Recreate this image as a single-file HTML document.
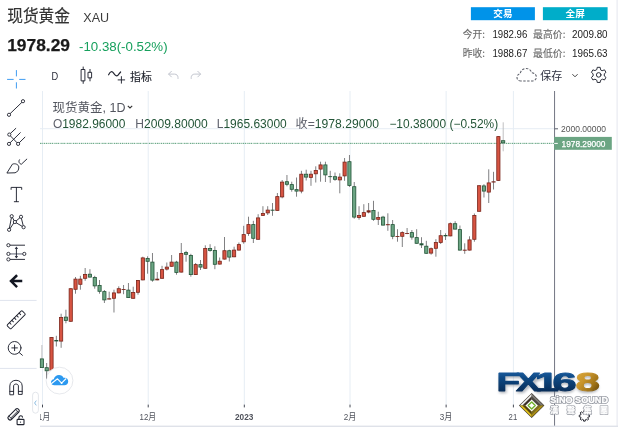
<!DOCTYPE html>
<html lang="zh-CN">
<head>
<meta charset="utf-8">
<title>现货黄金 XAU</title>
<style>
html,body{margin:0;padding:0;background:#fff;}
body{width:618px;height:427px;position:relative;overflow:hidden;font-family:"Liberation Sans","Noto Sans CJK SC",sans-serif;}
svg{position:absolute;left:0;top:0;display:block;}
text{font-family:"Liberation Sans","Noto Sans CJK SC",sans-serif;}
.cjk{font-family:"Noto Sans CJK SC","Liberation Sans",sans-serif;}
.ic{fill:none;stroke:#222531;stroke-width:0.95;stroke-linecap:round;stroke-linejoin:round;}
.icw{fill:#fff;stroke:#222531;stroke-width:0.9;}
</style>
</head>
<body>
<svg width="618" height="427" viewBox="0 0 618 427">
<rect x="0" y="0" width="618" height="427" fill="#ffffff"/>

<!-- ===== header ===== -->
<g id="header">
<text x="7.2" y="22.3" font-size="16.5" fill="#333" stroke="#333" stroke-width="0.15" class="cjk" textLength="62.8" lengthAdjust="spacingAndGlyphs">现货黄金</text>
<text x="83.3" y="21.6" font-size="13.2" fill="#3c3c3c" textLength="25.8" lengthAdjust="spacingAndGlyphs">XAU</text>
<text x="7.2" y="51" font-size="16.6" font-weight="bold" fill="#1a1a1a" stroke="#1a1a1a" stroke-width="0.25" textLength="62.8" lengthAdjust="spacingAndGlyphs">1978.29</text>
<text x="79" y="51" font-size="13.4" fill="#17a05d" textLength="88.6" lengthAdjust="spacingAndGlyphs">-10.38(-0.52%)</text>

<rect x="470.9" y="7.2" width="64" height="13" fill="#0093e9"/>
<text x="502.9" y="17.4" font-size="9.6" font-weight="bold" fill="#fff" text-anchor="middle" class="cjk">交易</text>
<rect x="542.9" y="7.2" width="64.7" height="13" fill="#00adc9"/>
<text x="575.2" y="17.4" font-size="9.6" font-weight="bold" fill="#fff" text-anchor="middle" class="cjk">全屏</text>

<text x="462.7" y="38.2" font-size="9.7" fill="#6a6a6a" stroke="#6a6a6a" stroke-width="0.12" class="cjk" textLength="22.3" lengthAdjust="spacingAndGlyphs">今开:</text>
<text x="492.4" y="38.2" font-size="11.8" fill="#222" textLength="35" lengthAdjust="spacingAndGlyphs">1982.96</text>
<text x="533" y="38.2" font-size="9.7" fill="#6a6a6a" stroke="#6a6a6a" stroke-width="0.12" class="cjk" textLength="32.4" lengthAdjust="spacingAndGlyphs">最高价:</text>
<text x="572" y="38.2" font-size="11.8" fill="#222" textLength="35.6" lengthAdjust="spacingAndGlyphs">2009.80</text>

<text x="462.7" y="57.2" font-size="9.7" fill="#6a6a6a" stroke="#6a6a6a" stroke-width="0.12" class="cjk" textLength="22.3" lengthAdjust="spacingAndGlyphs">昨收:</text>
<text x="492.4" y="57.2" font-size="11.8" fill="#222" textLength="35" lengthAdjust="spacingAndGlyphs">1988.67</text>
<text x="533" y="57.2" font-size="9.7" fill="#6a6a6a" stroke="#6a6a6a" stroke-width="0.12" class="cjk" textLength="32.4" lengthAdjust="spacingAndGlyphs">最低价:</text>
<text x="572" y="57.2" font-size="11.8" fill="#222" textLength="35.6" lengthAdjust="spacingAndGlyphs">1965.63</text>
</g>

<!-- right border -->
<rect x="616.6" y="0" width="1" height="427" fill="#e4e7ee"/>

<!-- ===== chart ===== -->
<g id="chart">
<rect x="42.00" y="91" width="1" height="313.6" fill="#e6edf4"/>
<rect x="42.00" y="404.6" width="1" height="2.8" fill="#454954"/>
<rect x="147.71" y="91" width="1" height="313.6" fill="#e6edf4"/>
<rect x="147.71" y="404.6" width="1" height="2.8" fill="#454954"/>
<rect x="243.81" y="91" width="1" height="313.6" fill="#e6edf4"/>
<rect x="243.81" y="404.6" width="1" height="2.8" fill="#454954"/>
<rect x="349.52" y="91" width="1" height="313.6" fill="#e6edf4"/>
<rect x="349.52" y="404.6" width="1" height="2.8" fill="#454954"/>
<rect x="445.62" y="91" width="1" height="313.6" fill="#e6edf4"/>
<rect x="445.62" y="404.6" width="1" height="2.8" fill="#454954"/>
<rect x="512.89" y="91" width="1" height="313.6" fill="#e6edf4"/>
<rect x="512.89" y="404.6" width="1" height="2.8" fill="#454954"/>
<rect x="40" y="128.2" width="514" height="1" fill="#e6edf4"/>
<line x1="40" y1="143.35" x2="554" y2="143.35" stroke="#559c76" stroke-width="1" stroke-dasharray="1.5 0.75 0.7 0.75 1.4 0.75"/>
<rect x="41.45" y="345.0" width="0.9" height="23.0" fill="#b9b9bb"/>
<rect x="46.25" y="363.0" width="0.9" height="15.6" fill="#737375"/>
<rect x="51.06" y="337.0" width="0.9" height="33.8" fill="#737375"/>
<rect x="55.86" y="335.8" width="0.9" height="10.7" fill="#737375"/>
<rect x="60.67" y="313.7" width="0.9" height="34.1" fill="#737375"/>
<rect x="65.47" y="309.7" width="0.9" height="13.6" fill="#737375"/>
<rect x="70.28" y="288.3" width="0.9" height="33.4" fill="#737375"/>
<rect x="75.08" y="277.0" width="0.9" height="16.7" fill="#737375"/>
<rect x="79.89" y="275.8" width="0.9" height="13.9" fill="#737375"/>
<rect x="84.69" y="268.0" width="0.9" height="12.8" fill="#737375"/>
<rect x="89.50" y="269.2" width="0.9" height="8.3" fill="#737375"/>
<rect x="94.30" y="275.8" width="0.9" height="12.9" fill="#737375"/>
<rect x="99.11" y="280.0" width="0.9" height="13.7" fill="#737375"/>
<rect x="103.91" y="290.0" width="0.9" height="13.0" fill="#737375"/>
<rect x="108.72" y="291.7" width="0.9" height="7.8" fill="#737375"/>
<rect x="113.52" y="289.7" width="0.9" height="22.8" fill="#737375"/>
<rect x="118.33" y="286.3" width="0.9" height="7.0" fill="#737375"/>
<rect x="123.14" y="285.0" width="0.9" height="9.2" fill="#737375"/>
<rect x="127.94" y="283.0" width="0.9" height="15.0" fill="#737375"/>
<rect x="132.75" y="286.7" width="0.9" height="12.0" fill="#737375"/>
<rect x="137.55" y="280.0" width="0.9" height="14.7" fill="#737375"/>
<rect x="142.36" y="256.7" width="0.9" height="23.6" fill="#737375"/>
<rect x="147.16" y="256.3" width="0.9" height="17.4" fill="#737375"/>
<rect x="151.97" y="253.0" width="0.9" height="28.7" fill="#737375"/>
<rect x="156.77" y="272.0" width="0.9" height="8.3" fill="#737375"/>
<rect x="161.58" y="265.8" width="0.9" height="12.9" fill="#737375"/>
<rect x="166.38" y="262.5" width="0.9" height="8.0" fill="#737375"/>
<rect x="171.19" y="255.0" width="0.9" height="11.7" fill="#737375"/>
<rect x="175.99" y="260.8" width="0.9" height="13.9" fill="#737375"/>
<rect x="180.80" y="243.0" width="0.9" height="29.5" fill="#737375"/>
<rect x="185.60" y="250.8" width="0.9" height="10.9" fill="#737375"/>
<rect x="190.41" y="253.8" width="0.9" height="22.9" fill="#737375"/>
<rect x="195.21" y="263.0" width="0.9" height="12.0" fill="#737375"/>
<rect x="200.02" y="260.0" width="0.9" height="10.0" fill="#737375"/>
<rect x="204.82" y="245.3" width="0.9" height="23.4" fill="#737375"/>
<rect x="209.62" y="244.2" width="0.9" height="7.5" fill="#737375"/>
<rect x="214.43" y="246.3" width="0.9" height="22.9" fill="#737375"/>
<rect x="219.24" y="257.5" width="0.9" height="7.0" fill="#737375"/>
<rect x="224.04" y="237.0" width="0.9" height="22.5" fill="#737375"/>
<rect x="228.84" y="249.7" width="0.9" height="11.8" fill="#737375"/>
<rect x="233.65" y="246.7" width="0.9" height="10.5" fill="#737375"/>
<rect x="238.46" y="242.5" width="0.9" height="8.0" fill="#737375"/>
<rect x="243.26" y="225.8" width="0.9" height="17.9" fill="#737375"/>
<rect x="248.06" y="216.7" width="0.9" height="19.1" fill="#737375"/>
<rect x="252.87" y="220.8" width="0.9" height="22.2" fill="#737375"/>
<rect x="257.68" y="214.2" width="0.9" height="25.5" fill="#737375"/>
<rect x="262.48" y="206.2" width="0.9" height="9.6" fill="#737375"/>
<rect x="267.28" y="206.2" width="0.9" height="8.8" fill="#737375"/>
<rect x="272.09" y="203.0" width="0.9" height="12.8" fill="#737375"/>
<rect x="276.89" y="193.0" width="0.9" height="17.8" fill="#737375"/>
<rect x="281.70" y="180.0" width="0.9" height="18.3" fill="#737375"/>
<rect x="286.50" y="175.0" width="0.9" height="11.3" fill="#737375"/>
<rect x="291.31" y="181.7" width="0.9" height="10.0" fill="#737375"/>
<rect x="296.12" y="177.5" width="0.9" height="19.2" fill="#737375"/>
<rect x="300.92" y="170.8" width="0.9" height="22.5" fill="#737375"/>
<rect x="305.72" y="169.7" width="0.9" height="10.8" fill="#737375"/>
<rect x="310.53" y="170.8" width="0.9" height="15.0" fill="#737375"/>
<rect x="315.33" y="166.3" width="0.9" height="16.2" fill="#737375"/>
<rect x="320.14" y="161.7" width="0.9" height="20.0" fill="#737375"/>
<rect x="324.94" y="161.7" width="0.9" height="20.3" fill="#737375"/>
<rect x="329.75" y="170.8" width="0.9" height="12.0" fill="#737375"/>
<rect x="334.55" y="172.5" width="0.9" height="8.3" fill="#737375"/>
<rect x="339.36" y="173.3" width="0.9" height="20.0" fill="#737375"/>
<rect x="344.16" y="158.0" width="0.9" height="22.8" fill="#737375"/>
<rect x="348.97" y="155.0" width="0.9" height="31.9" fill="#737375"/>
<rect x="353.77" y="182.0" width="0.9" height="36.7" fill="#737375"/>
<rect x="358.58" y="206.2" width="0.9" height="13.5" fill="#737375"/>
<rect x="363.38" y="204.2" width="0.9" height="12.5" fill="#737375"/>
<rect x="368.19" y="203.0" width="0.9" height="10.3" fill="#737375"/>
<rect x="372.99" y="200.8" width="0.9" height="20.0" fill="#737375"/>
<rect x="377.80" y="211.7" width="0.9" height="13.3" fill="#737375"/>
<rect x="382.60" y="215.8" width="0.9" height="9.7" fill="#737375"/>
<rect x="387.41" y="213.3" width="0.9" height="17.5" fill="#737375"/>
<rect x="392.21" y="220.0" width="0.9" height="19.2" fill="#737375"/>
<rect x="397.02" y="229.2" width="0.9" height="12.5" fill="#737375"/>
<rect x="401.82" y="231.3" width="0.9" height="15.7" fill="#737375"/>
<rect x="406.63" y="228.0" width="0.9" height="6.2" fill="#737375"/>
<rect x="411.43" y="230.0" width="0.9" height="9.7" fill="#737375"/>
<rect x="416.24" y="229.2" width="0.9" height="14.5" fill="#737375"/>
<rect x="421.04" y="237.2" width="0.9" height="10.8" fill="#737375"/>
<rect x="425.85" y="240.8" width="0.9" height="12.9" fill="#737375"/>
<rect x="430.65" y="247.5" width="0.9" height="7.2" fill="#737375"/>
<rect x="435.46" y="239.2" width="0.9" height="17.5" fill="#737375"/>
<rect x="440.26" y="230.0" width="0.9" height="14.0" fill="#737375"/>
<rect x="445.07" y="233.3" width="0.9" height="6.7" fill="#737375"/>
<rect x="449.87" y="222.5" width="0.9" height="13.8" fill="#737375"/>
<rect x="454.68" y="221.2" width="0.9" height="8.3" fill="#737375"/>
<rect x="459.48" y="225.5" width="0.9" height="25.0" fill="#737375"/>
<rect x="464.29" y="243.3" width="0.9" height="10.5" fill="#737375"/>
<rect x="469.09" y="236.3" width="0.9" height="14.2" fill="#737375"/>
<rect x="473.90" y="213.5" width="0.9" height="28.2" fill="#737375"/>
<rect x="478.70" y="185.3" width="0.9" height="26.4" fill="#737375"/>
<rect x="483.51" y="184.2" width="0.9" height="13.3" fill="#737375"/>
<rect x="488.31" y="169.3" width="0.9" height="33.7" fill="#737375"/>
<rect x="493.12" y="171.8" width="0.9" height="17.7" fill="#737375"/>
<rect x="497.92" y="136.2" width="0.9" height="44.6" fill="#737375"/>
<rect x="502.73" y="122.3" width="0.9" height="29.0" fill="#b9b9bb"/>
<rect x="40.30" y="358.9" width="3.2" height="8.7" fill="#6ba583" stroke="#225437" stroke-width="0.8"/>
<rect x="45.10" y="367.7" width="3.2" height="3.1" fill="#6ba583" stroke="#225437" stroke-width="0.8"/>
<rect x="49.91" y="337.4" width="3.2" height="33.0" fill="#d75442" stroke="#7a241a" stroke-width="0.8"/>
<rect x="54.31" y="340.0" width="4.0" height="1.4" fill="#225437"/>
<rect x="59.52" y="317.4" width="3.2" height="23.7" fill="#d75442" stroke="#7a241a" stroke-width="0.8"/>
<rect x="64.33" y="317.1" width="3.2" height="3.3" fill="#6ba583" stroke="#225437" stroke-width="0.8"/>
<rect x="69.13" y="288.7" width="3.2" height="32.6" fill="#d75442" stroke="#7a241a" stroke-width="0.8"/>
<rect x="73.94" y="279.1" width="3.2" height="10.2" fill="#d75442" stroke="#7a241a" stroke-width="0.8"/>
<rect x="78.74" y="279.1" width="3.2" height="5.2" fill="#d75442" stroke="#7a241a" stroke-width="0.8"/>
<rect x="83.55" y="274.4" width="3.2" height="3.9" fill="#d75442" stroke="#7a241a" stroke-width="0.8"/>
<rect x="88.35" y="274.2" width="3.2" height="2.9" fill="#6ba583" stroke="#225437" stroke-width="0.8"/>
<rect x="93.16" y="277.4" width="3.2" height="8.5" fill="#6ba583" stroke="#225437" stroke-width="0.8"/>
<rect x="97.96" y="285.4" width="3.2" height="5.9" fill="#6ba583" stroke="#225437" stroke-width="0.8"/>
<rect x="102.77" y="291.6" width="3.2" height="8.3" fill="#6ba583" stroke="#225437" stroke-width="0.8"/>
<rect x="107.17" y="298.3" width="4.0" height="1.2" fill="#7a241a"/>
<rect x="112.38" y="292.9" width="3.2" height="5.4" fill="#d75442" stroke="#7a241a" stroke-width="0.8"/>
<rect x="117.18" y="288.7" width="3.2" height="4.2" fill="#d75442" stroke="#7a241a" stroke-width="0.8"/>
<rect x="121.59" y="289.0" width="4.0" height="0.9" fill="#7a241a"/>
<rect x="126.79" y="290.1" width="3.2" height="7.5" fill="#6ba583" stroke="#225437" stroke-width="0.8"/>
<rect x="131.59" y="292.5" width="3.2" height="5.8" fill="#d75442" stroke="#7a241a" stroke-width="0.8"/>
<rect x="136.40" y="280.4" width="3.2" height="11.9" fill="#d75442" stroke="#7a241a" stroke-width="0.8"/>
<rect x="141.21" y="257.9" width="3.2" height="22.0" fill="#d75442" stroke="#7a241a" stroke-width="0.8"/>
<rect x="146.01" y="258.4" width="3.2" height="2.9" fill="#6ba583" stroke="#225437" stroke-width="0.8"/>
<rect x="150.81" y="262.1" width="3.2" height="18.0" fill="#6ba583" stroke="#225437" stroke-width="0.8"/>
<rect x="155.22" y="278.7" width="4.0" height="1.6" fill="#7a241a"/>
<rect x="160.43" y="269.6" width="3.2" height="8.7" fill="#d75442" stroke="#7a241a" stroke-width="0.8"/>
<rect x="165.23" y="267.1" width="3.2" height="2.0" fill="#d75442" stroke="#7a241a" stroke-width="0.8"/>
<rect x="170.03" y="262.1" width="3.2" height="4.2" fill="#d75442" stroke="#7a241a" stroke-width="0.8"/>
<rect x="174.84" y="262.1" width="3.2" height="10.3" fill="#6ba583" stroke="#225437" stroke-width="0.8"/>
<rect x="179.65" y="253.4" width="3.2" height="18.7" fill="#d75442" stroke="#7a241a" stroke-width="0.8"/>
<rect x="184.45" y="252.6" width="3.2" height="1.7" fill="#6ba583" stroke="#225437" stroke-width="0.8"/>
<rect x="189.25" y="255.4" width="3.2" height="19.2" fill="#6ba583" stroke="#225437" stroke-width="0.8"/>
<rect x="194.06" y="264.6" width="3.2" height="10.0" fill="#d75442" stroke="#7a241a" stroke-width="0.8"/>
<rect x="198.87" y="264.6" width="3.2" height="2.5" fill="#6ba583" stroke="#225437" stroke-width="0.8"/>
<rect x="203.67" y="248.4" width="3.2" height="19.9" fill="#d75442" stroke="#7a241a" stroke-width="0.8"/>
<rect x="208.47" y="248.4" width="3.2" height="2.0" fill="#6ba583" stroke="#225437" stroke-width="0.8"/>
<rect x="213.28" y="250.4" width="3.2" height="13.9" fill="#6ba583" stroke="#225437" stroke-width="0.8"/>
<rect x="218.09" y="261.2" width="3.2" height="2.9" fill="#d75442" stroke="#7a241a" stroke-width="0.8"/>
<rect x="222.89" y="250.7" width="3.2" height="8.4" fill="#d75442" stroke="#7a241a" stroke-width="0.8"/>
<rect x="227.69" y="250.7" width="3.2" height="6.4" fill="#6ba583" stroke="#225437" stroke-width="0.8"/>
<rect x="232.50" y="250.1" width="3.2" height="6.7" fill="#d75442" stroke="#7a241a" stroke-width="0.8"/>
<rect x="237.31" y="244.6" width="3.2" height="5.5" fill="#d75442" stroke="#7a241a" stroke-width="0.8"/>
<rect x="242.11" y="234.6" width="3.2" height="7.2" fill="#d75442" stroke="#7a241a" stroke-width="0.8"/>
<rect x="246.91" y="224.6" width="3.2" height="8.8" fill="#d75442" stroke="#7a241a" stroke-width="0.8"/>
<rect x="251.72" y="224.6" width="3.2" height="13.7" fill="#6ba583" stroke="#225437" stroke-width="0.8"/>
<rect x="256.52" y="217.9" width="3.2" height="21.4" fill="#d75442" stroke="#7a241a" stroke-width="0.8"/>
<rect x="261.33" y="213.4" width="3.2" height="2.0" fill="#d75442" stroke="#7a241a" stroke-width="0.8"/>
<rect x="266.13" y="210.1" width="3.2" height="2.8" fill="#d75442" stroke="#7a241a" stroke-width="0.8"/>
<rect x="270.54" y="209.7" width="4.0" height="1.0" fill="#225437"/>
<rect x="275.74" y="196.6" width="3.2" height="13.8" fill="#d75442" stroke="#7a241a" stroke-width="0.8"/>
<rect x="280.55" y="182.1" width="3.2" height="14.8" fill="#d75442" stroke="#7a241a" stroke-width="0.8"/>
<rect x="285.35" y="181.7" width="3.2" height="2.6" fill="#6ba583" stroke="#225437" stroke-width="0.8"/>
<rect x="290.16" y="184.6" width="3.2" height="4.7" fill="#6ba583" stroke="#225437" stroke-width="0.8"/>
<rect x="294.96" y="189.6" width="3.2" height="1.5" fill="#6ba583" stroke="#225437" stroke-width="0.8"/>
<rect x="299.77" y="174.2" width="3.2" height="16.9" fill="#d75442" stroke="#7a241a" stroke-width="0.8"/>
<rect x="304.57" y="174.2" width="3.2" height="2.9" fill="#6ba583" stroke="#225437" stroke-width="0.8"/>
<rect x="309.38" y="174.2" width="3.2" height="3.2" fill="#d75442" stroke="#7a241a" stroke-width="0.8"/>
<rect x="314.18" y="170.4" width="3.2" height="3.4" fill="#d75442" stroke="#7a241a" stroke-width="0.8"/>
<rect x="318.99" y="164.9" width="3.2" height="4.2" fill="#d75442" stroke="#7a241a" stroke-width="0.8"/>
<rect x="323.79" y="164.9" width="3.2" height="10.0" fill="#6ba583" stroke="#225437" stroke-width="0.8"/>
<rect x="328.20" y="176.2" width="4.0" height="0.9" fill="#225437"/>
<rect x="333.40" y="176.7" width="3.2" height="2.6" fill="#6ba583" stroke="#225437" stroke-width="0.8"/>
<rect x="338.21" y="177.1" width="3.2" height="2.8" fill="#d75442" stroke="#7a241a" stroke-width="0.8"/>
<rect x="343.01" y="162.1" width="3.2" height="13.8" fill="#d75442" stroke="#7a241a" stroke-width="0.8"/>
<rect x="347.82" y="161.7" width="3.2" height="23.7" fill="#6ba583" stroke="#225437" stroke-width="0.8"/>
<rect x="352.62" y="186.7" width="3.2" height="30.4" fill="#6ba583" stroke="#225437" stroke-width="0.8"/>
<rect x="357.43" y="215.4" width="3.2" height="2.2" fill="#d75442" stroke="#7a241a" stroke-width="0.8"/>
<rect x="362.23" y="212.6" width="3.2" height="3.7" fill="#d75442" stroke="#7a241a" stroke-width="0.8"/>
<rect x="366.64" y="210.3" width="4.0" height="2.2" fill="#7a241a"/>
<rect x="371.84" y="210.4" width="3.2" height="8.9" fill="#6ba583" stroke="#225437" stroke-width="0.8"/>
<rect x="376.65" y="217.4" width="3.2" height="1.9" fill="#d75442" stroke="#7a241a" stroke-width="0.8"/>
<rect x="381.45" y="217.1" width="3.2" height="8.0" fill="#6ba583" stroke="#225437" stroke-width="0.8"/>
<rect x="385.86" y="224.2" width="4.0" height="1.0" fill="#7a241a"/>
<rect x="391.06" y="224.6" width="3.2" height="11.7" fill="#6ba583" stroke="#225437" stroke-width="0.8"/>
<rect x="395.47" y="236.0" width="4.0" height="0.9" fill="#7a241a"/>
<rect x="400.67" y="232.6" width="3.2" height="3.7" fill="#d75442" stroke="#7a241a" stroke-width="0.8"/>
<rect x="405.08" y="233.0" width="4.0" height="0.9" fill="#7a241a"/>
<rect x="410.28" y="232.6" width="3.2" height="4.5" fill="#6ba583" stroke="#225437" stroke-width="0.8"/>
<rect x="415.09" y="237.6" width="3.2" height="5.7" fill="#6ba583" stroke="#225437" stroke-width="0.8"/>
<rect x="419.49" y="243.3" width="4.0" height="2.0" fill="#225437"/>
<rect x="424.70" y="246.2" width="3.2" height="7.1" fill="#6ba583" stroke="#225437" stroke-width="0.8"/>
<rect x="429.50" y="248.7" width="3.2" height="4.4" fill="#d75442" stroke="#7a241a" stroke-width="0.8"/>
<rect x="434.31" y="242.5" width="3.2" height="5.8" fill="#d75442" stroke="#7a241a" stroke-width="0.8"/>
<rect x="439.11" y="235.7" width="3.2" height="6.7" fill="#d75442" stroke="#7a241a" stroke-width="0.8"/>
<rect x="443.52" y="235.0" width="4.0" height="1.3" fill="#225437"/>
<rect x="448.72" y="223.7" width="3.2" height="12.2" fill="#d75442" stroke="#7a241a" stroke-width="0.8"/>
<rect x="453.53" y="223.7" width="3.2" height="5.4" fill="#6ba583" stroke="#225437" stroke-width="0.8"/>
<rect x="458.33" y="229.6" width="3.2" height="20.5" fill="#6ba583" stroke="#225437" stroke-width="0.8"/>
<rect x="462.74" y="249.7" width="4.0" height="1.0" fill="#7a241a"/>
<rect x="467.94" y="239.9" width="3.2" height="10.2" fill="#d75442" stroke="#7a241a" stroke-width="0.8"/>
<rect x="472.75" y="215.4" width="3.2" height="23.9" fill="#d75442" stroke="#7a241a" stroke-width="0.8"/>
<rect x="477.55" y="185.7" width="3.2" height="25.6" fill="#d75442" stroke="#7a241a" stroke-width="0.8"/>
<rect x="482.36" y="185.9" width="3.2" height="5.2" fill="#6ba583" stroke="#225437" stroke-width="0.8"/>
<rect x="487.16" y="182.9" width="3.2" height="9.2" fill="#d75442" stroke="#7a241a" stroke-width="0.8"/>
<rect x="491.57" y="181.3" width="4.0" height="1.2" fill="#7a241a"/>
<rect x="496.77" y="136.6" width="3.2" height="43.8" fill="#d75442" stroke="#7a241a" stroke-width="0.8"/>
<rect x="501.58" y="140.7" width="3.2" height="2.2" fill="#6ba583" stroke="#225437" stroke-width="0.8"/>
</g>

<!-- price axis -->
<rect x="554.15" y="91" width="0.9" height="335" fill="#646875"/>
<rect x="554.6" y="128.3" width="3.4" height="1" fill="#5a5e6b"/>
<text x="561" y="132.2" font-size="8.6" fill="#555" textLength="45" lengthAdjust="spacingAndGlyphs">2000.00000</text>
<rect x="554.2" y="136.9" width="57.6" height="12.9" fill="#6ba583"/>
<rect x="554.2" y="142.9" width="3.6" height="1" fill="#fff"/>
<text x="561.5" y="146.6" font-size="8.6" fill="#fff" stroke="#fff" stroke-width="0.25" textLength="44" lengthAdjust="spacingAndGlyphs">1978.29000</text>

<!-- bottom band -->
<rect x="40" y="425.6" width="578" height="1.4" fill="#dfe2e9"/>

<!-- time axis labels -->
<g font-size="9.5" fill="#50535c">
<svg x="40" y="405" width="60" height="20" viewBox="40 405 60 20"><text x="33.9" y="420.2" font-size="9.5" fill="#50535c" textLength="16.6" lengthAdjust="spacingAndGlyphs">11月</text></svg>
<text x="139.6" y="420.2" textLength="16.6" lengthAdjust="spacingAndGlyphs">12月</text>
<text x="235" y="420.2" font-weight="bold" textLength="18.4" lengthAdjust="spacingAndGlyphs">2023</text>
<text x="343.8" y="420.2" textLength="12.6" lengthAdjust="spacingAndGlyphs">2月</text>
<text x="439.8" y="420.2" textLength="12.6" lengthAdjust="spacingAndGlyphs">3月</text>
<text x="508.6" y="420.2" textLength="8.6" lengthAdjust="spacingAndGlyphs">21</text>
</g>

<!-- legend -->
<g id="legend">
<text x="52.5" y="112" font-size="12.5" fill="#53565f">现货黄金, 1D</text>
<path d="M127.8 105.8 l2.2 2.2 l2.2 -2.2" fill="none" stroke="#333" stroke-width="1.1"/>
<g font-size="12">
<text x="52.9" y="128" textLength="72.5" lengthAdjust="spacingAndGlyphs"><tspan fill="#5d606b">O</tspan><tspan fill="#225437">1982.96000</tspan></text>
<text x="135.3" y="128" textLength="72.5" lengthAdjust="spacingAndGlyphs"><tspan fill="#5d606b">H</tspan><tspan fill="#225437">2009.80000</tspan></text>
<text x="216.8" y="128" textLength="69.9" lengthAdjust="spacingAndGlyphs"><tspan fill="#5d606b">L</tspan><tspan fill="#225437">1965.63000</tspan></text>
<text x="295.6" y="128" textLength="83.4" lengthAdjust="spacingAndGlyphs"><tspan fill="#5d606b">收=</tspan><tspan fill="#225437">1978.29000</tspan></text>
<text x="389.4" y="128" textLength="108.8" lengthAdjust="spacingAndGlyphs" fill="#225437">−10.38000 (−0.52%)</text>
</g>
</g>

<!-- ===== top toolbar ===== -->
<g id="toolbar">
<text x="51.4" y="80.1" font-size="10.5" fill="#2a2d3a" textLength="6.7" lengthAdjust="spacingAndGlyphs">D</text>
<!-- candles icon -->
<g class="ic" stroke-width="1">
<rect x="81.5" y="69.5" width="3.4" height="11.4"/>
<path d="M83.2 67 v2.5 M83.2 80.9 v2.5"/>
<rect x="88.4" y="72.3" width="3.2" height="5.6"/>
<path d="M90 69.4 v2.9 M90 77.9 v3"/>
</g>
<!-- indicators icon -->
<path class="ic" style="stroke-width:1.2" d="M108.6 74.8 c1.8 -3.6 3.4 -4 5 -1.6 c1.4 2.2 2.8 3.4 4.4 2 l2.6 -3.2"/>
<path class="ic" d="M121.4 76.6 v6.6 M118.1 79.9 h6.6"/>
<text x="130" y="81" font-size="10.9" fill="#1f222c" stroke="#1f222c" stroke-width="0.15" class="cjk">指标</text>
<!-- undo / redo -->
<g fill="none" stroke="#c3c6cf" stroke-width="1" stroke-linecap="round" stroke-linejoin="round">
<path d="M171.4 71.3 l-2.8 2.8 l2.8 2.8 M168.8 74.1 h5.6 c2.4 0 3.6 1.6 3.6 3.4 v1"/>
<path d="M197.8 71.3 l2.8 2.8 l-2.8 2.8 M200.4 74.1 h-5.6 c-2.4 0 -3.6 1.6 -3.6 3.4 v1"/>
</g>
<!-- save -->
<path d="M521 81 c-2.6 0 -4 -1.6 -4 -3.6 c0 -2 1.4 -3.4 3.2 -3.6 c0.4 -3.2 2.8 -5.4 5.8 -5.4 c2.8 0 5 1.8 5.8 4.4 c2.6 0.2 4.6 2 4.6 4.2 c0 2.2 -1.8 4 -4.2 4 z" fill="none" stroke="#595c66" stroke-width="1.05" stroke-dasharray="2.4 1.5"/>
<text x="540.3" y="80.4" font-size="11" fill="#2f3241" class="cjk">保存</text>
<path d="M572.4 74.2 l2.6 2.6 l2.6 -2.6" fill="none" stroke="#444" stroke-width="1"/>
<!-- gear -->
<g transform="translate(598.7 74.9)">
<path class="ic" d="M1.86 -5.39 L1.47 -7.56 L-1.47 -7.56 L-1.86 -5.39 L-3.74 -4.30 L-5.81 -5.05 L-7.28 -2.51 L-5.60 -1.09 L-5.60 1.09 L-7.28 2.51 L-5.81 5.05 L-3.74 4.30 L-1.86 5.39 L-1.47 7.56 L1.47 7.56 L1.86 5.39 L3.74 4.30 L5.81 5.05 L7.28 2.51 L5.60 1.09 L5.60 -1.09 L7.28 -2.51 L5.81 -5.05 L3.74 -4.30 Z"/>
<circle class="ic" cx="0" cy="0" r="2.3"/>
</g>
</g>

<!-- ===== left toolbar ===== -->
<g id="lefttools">
<!-- crosshair -->
<path d="M7.1 79.4 h6.5 M19.2 79.4 h6.3 M16.4 70.1 v6.3 M16.4 82.3 v6.2" fill="none" stroke="#3f9cf2" stroke-width="1"/>
<!-- trend line -->
<path class="ic" d="M10.2 113.6 L21.8 102.4"/>
<circle class="icw" cx="23" cy="101.2" r="1.6"/><circle class="icw" cx="9" cy="114.8" r="1.6"/>
<!-- pitchfork -->
<path class="ic" d="M10.4 135.9 L16.9 142.6 M10.2 142.7 L20.3 132.7 M10.5 133.4 L15.8 128.4 M19.3 142.7 L24.9 137.2"/>
<circle class="icw" cx="9.3" cy="134.6" r="1.6"/><circle class="icw" cx="9" cy="143.9" r="1.6"/><circle class="icw" cx="18.1" cy="143.9" r="1.6"/>
<!-- brush -->
<path class="ic" d="M7.1 172.7 L12.4 164.2 C15 163 18.6 164.4 18.8 167 C19 169.8 17.4 172.2 15.4 172.7 Z"/>
<path class="ic" d="M19.4 159.8 C18.2 161.6 19.2 163.8 21.4 164.2 L26.8 159.1"/>
<!-- text T -->
<path class="ic" d="M11.1 189.4 v-2 h10.6 v2 M16.4 187.4 v14.2 M14.3 201.7 h4.2"/>
<!-- pattern -->
<path class="ic" d="M9.1 229.8 L11.7 216.2 L14.9 222 L21 216.8 L23.6 227.2 L14.9 222 Z" stroke-width="0.9"/>
<circle class="icw" cx="11.7" cy="216.2" r="1.6"/><circle class="icw" cx="21" cy="216.8" r="1.6"/><circle class="icw" cx="14.9" cy="222" r="1.6"/><circle class="icw" cx="9.1" cy="229.8" r="1.6"/><circle class="icw" cx="23.6" cy="227.2" r="1.6"/>
<!-- long/short -->
<path class="ic" d="M10 245.2 H24.6 M10 259.4 H24.6"/>
<path d="M10 253.9 H22.7" stroke="#9a9da8" stroke-width="1.6" fill="none"/>
<path class="ic" d="M16.4 247.6 V257.4"/>
<path d="M16.4 246.6 l1.7 2.4 h-3.4 z M16.4 258.4 l1.7 -2.4 h-3.4 z" fill="#2f3241"/>
<circle class="icw" cx="8.4" cy="245.2" r="1.6"/><circle class="icw" cx="8.4" cy="253.9" r="1.6"/><circle class="icw" cx="24.3" cy="253.9" r="1.6"/><circle class="icw" cx="8.4" cy="259.4" r="1.6"/>
<!-- back arrow -->
<path d="M21 281.1 H11.6 M16.2 276 L11 281.1 L16.2 286.2" fill="none" stroke="#131722" stroke-width="2.5" stroke-linecap="square" stroke-linejoin="miter"/>
<!-- separators -->
<rect x="0" y="299.9" width="36.6" height="1" fill="#dfe4ee"/>
<rect x="0" y="367.9" width="36.6" height="1" fill="#dfe4ee"/>
<!-- ruler -->
<g transform="translate(16.2 319.8) rotate(-45)">
<rect class="ic" x="-10.6" y="-2.7" width="21.2" height="5.4" rx="1"/>
<path class="ic" d="M-6.8 -2.7 v2.2 M-3.4 -2.7 v2.2 M0 -2.7 v2.2 M3.4 -2.7 v2.2 M6.8 -2.7 v2.2" stroke-width="0.8"/>
</g>
<!-- zoom -->
<circle class="ic" cx="14.6" cy="347.9" r="6.4"/>
<path class="ic" d="M11.8 347.9 h5.6 M14.6 345.1 v5.6 M19.3 352.6 L22.4 355.3"/>
<!-- magnet -->
<path class="ic" d="M9.8 394.4 V386 C9.8 378.4 22.2 378.4 22.2 386 V394.4 H18.4 V386 C18.4 383.4 13.6 383.4 13.6 386 V394.4 Z M9.8 391.4 H13.6 M18.4 391.4 H22.2"/>
<!-- pencil + lock -->
<g transform="translate(13.6 414.3) rotate(-45)">
<rect class="ic" x="-7" y="-2.05" width="14" height="4.1" rx="1.7" style="stroke-width:1.1"/>
<path class="ic" d="M-4.6 -2 V2 M4.9 -2 V2 M-4.6 0.6 H4.9" style="stroke-width:0.8"/>
</g>
<rect x="16.5" y="416" width="8.6" height="9.6" fill="#fff"/>
<rect class="ic" x="17.1" y="419.4" width="6.9" height="5.2" rx="0.7" style="stroke-width:1.1"/>
<path class="ic" d="M18.9 419.3 v-1.5 c0 -2.5 3.3 -2.7 3.6 -0.6" style="stroke-width:1.1"/>
<circle cx="20.5" cy="422.1" r="0.65" fill="#222531"/>
<!-- collapse handle -->
<rect x="32.6" y="392.2" width="5.8" height="21" rx="2.9" fill="#fff" stroke="#dcdfe6" stroke-width="0.8"/>
<path d="M36.3 400.6 l-1.7 2.4 l1.7 2.4" fill="none" stroke="#7fb4dc" stroke-width="0.9"/>
</g>

<!-- ===== TV logo ===== -->
<circle cx="59.5" cy="380.6" r="13.4" fill="#fff" stroke="#e3e5ea" stroke-width="0.9"/>
<path d="M54.4 385.3 c-2 0 -3.4 -1.3 -3.4 -3 c0 -1.6 1.2 -2.8 2.8 -3 c0.5 -2.4 2.6 -4.2 5.2 -4.2 c2.1 0 3.9 1.1 4.7 2.9 c0.4 -0.1 0.7 -0.2 1.1 -0.2 c1.9 0 3.4 1.6 3.4 3.6 c0 2.2 -1.6 3.9 -3.8 3.9 z" fill="#2c99f0"/>
<path d="M51.2 383.7 L57.5 378.8 L61.6 383.1 L66.2 378.5" fill="none" stroke="#fff" stroke-width="1.1" stroke-linejoin="round"/>
<circle cx="61.6" cy="383.2" r="0.85" fill="#fff"/>
<rect x="46.2" y="371.4" width="0.85" height="7.2" fill="#7d7d80"/>

<!-- ===== watermark ===== -->
<g id="wm">
<defs>
<linearGradient id="gnavy" gradientUnits="userSpaceOnUse" x1="0" y1="371" x2="0" y2="392"><stop offset="0" stop-color="#1b5c9f"/><stop offset="0.35" stop-color="#0e4882"/><stop offset="1" stop-color="#082c57"/></linearGradient>
<linearGradient id="ggold" gradientUnits="userSpaceOnUse" x1="575" y1="372" x2="598" y2="391"><stop offset="0" stop-color="#d9a83e"/><stop offset="0.4" stop-color="#c9952c"/><stop offset="0.75" stop-color="#a07318"/><stop offset="1" stop-color="#6b4a0c"/></linearGradient>
<filter id="sh" x="-10%" y="-30%" width="120%" height="170%"><feGaussianBlur stdDeviation="1.1"/></filter>
<filter id="sh2" x="-10%" y="-50%" width="120%" height="200%"><feGaussianBlur stdDeviation="0.5"/></filter>
</defs>
<g font-size="26.1" font-weight="bold" fill="#7d838e" stroke="#7d838e" stroke-width="0.7" opacity="0.55" filter="url(#sh)" transform="translate(497.2 392.8) scale(1.58 1)">
<text x="0 12.4 24.3 35.5 50.1" y="0">FX168</text>
</g>
<g font-size="26.1" font-weight="bold" fill="url(#gnavy)" stroke="url(#gnavy)" stroke-width="0.9" stroke-linejoin="round">
<text x="496.4" y="391" textLength="23.6" lengthAdjust="spacingAndGlyphs">F</text>
<text x="516" y="391" textLength="24.6" lengthAdjust="spacingAndGlyphs">X</text>
<text x="534.8" y="391" textLength="24.2" lengthAdjust="spacingAndGlyphs">1</text>
<text x="552.5" y="391" textLength="24.2" lengthAdjust="spacingAndGlyphs">6</text>
<text x="575.6" y="391" textLength="24.4" lengthAdjust="spacingAndGlyphs" fill="url(#ggold)" stroke="url(#ggold)">8</text>
</g>
<!-- diamond -->
<g transform="translate(531.7 405.5)">
<path d="M0 -12.5 L12.7 0 L0 12.5 L-12.7 0 Z" fill="#3a3228"/>
<path d="M0 -11.7 L0 0 L-11.9 0 Z" fill="#ececec"/>
<path d="M0 -11.7 L11.9 0 L0 0 Z" fill="#7d7a75"/>
<path d="M-11.9 0 L0 11.7 L0 0 Z" fill="#dcbe1c"/>
<path d="M11.9 0 L0 11.7 L0 0 Z" fill="#a98d14"/>
<path d="M0 -9.2 L0 0 L-9.3 0 Z" fill="#3b3027"/>
<path d="M0 -9.2 L9.3 0 L0 0 Z" fill="#4d4740"/>
<path d="M-9.3 0 L0 9.2 L0 0 Z" fill="#54430f"/>
<path d="M9.3 0 L0 9.2 L0 0 Z" fill="#7d6c20"/>
<path d="M0 -6.1 L6.2 0 L0 6.1 L-6.2 0 Z" fill="#fdfdfb"/>
<path d="M0 -3.5 L3.5 0 L0 3.5 L-3.5 0 Z" fill="#fff" stroke="#72b22a" stroke-width="1.4" stroke-linejoin="round"/>
</g>
<!-- bottom-right gear (under watermark text) -->
<g transform="translate(584.4 416)">
<path d="M0.94 -3.78 L0.81 -5.14 L-0.81 -5.14 L-0.94 -3.78 L-2.01 -3.34 L-3.06 -4.21 L-4.21 -3.06 L-3.34 -2.01 L-3.78 -0.94 L-5.14 -0.81 L-5.14 0.81 L-3.78 0.94 L-3.34 2.01 L-4.21 3.06 L-3.06 4.21 L-2.01 3.34 L-0.94 3.78 L-0.81 5.14 L0.81 5.14 L0.94 3.78 L2.01 3.34 L3.06 4.21 L4.21 3.06 L3.34 2.01 L3.78 0.94 L5.14 0.81 L5.14 -0.81 L3.78 -0.94 L3.34 -2.01 L4.21 -3.06 L3.06 -4.21 L2.01 -3.34 Z" fill="none" stroke="#23252e" stroke-width="1" stroke-linejoin="round"/>
</g>
<g font-weight="bold">
<text x="550.3" y="403.1" font-size="9.3" fill="#92969f" stroke="#92969f" stroke-width="2" stroke-linejoin="round" filter="url(#sh2)" textLength="57.7" lengthAdjust="spacingAndGlyphs">SiNO SOUND</text>
<text x="550.3" y="403.1" font-size="9.3" fill="#fff" stroke="#fff" stroke-width="0.35" textLength="57.7" lengthAdjust="spacingAndGlyphs">SiNO SOUND</text>
<g class="cjk" font-size="8" >
<g fill="#92969f" stroke="#92969f" stroke-width="1.7" stroke-linejoin="round" filter="url(#sh2)">
<text x="550.3 566.9 583.5 600" y="412.9">漢聲集團</text>
</g>
<g fill="#fff" stroke="#fff" stroke-width="0.3">
<text x="550.3 566.9 583.5 600" y="412.9">漢聲集團</text>
</g>
</g>
</g>
</g>
</svg>
</body>
</html>
